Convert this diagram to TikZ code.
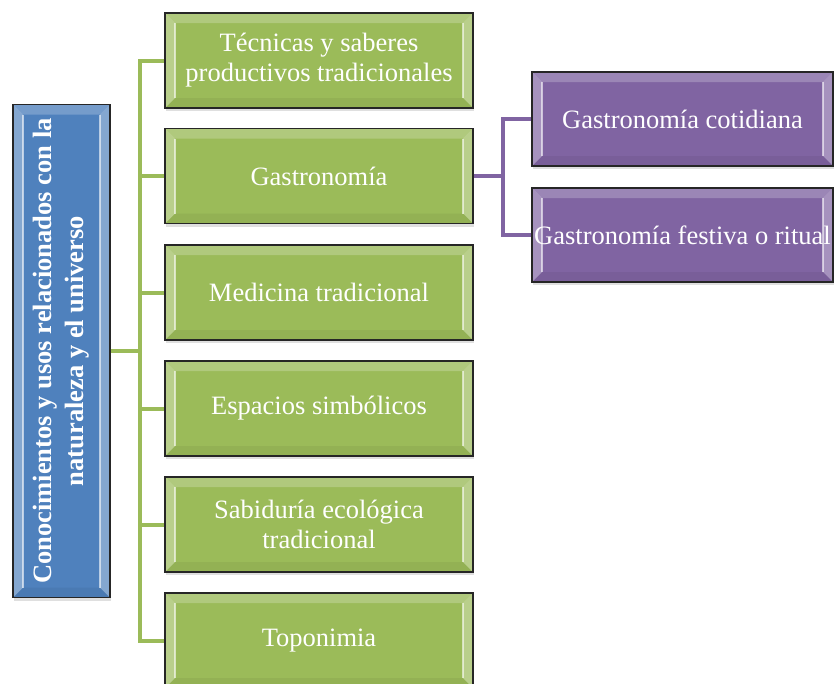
\documentclass[tikz,border=0pt]{standalone}
\usepackage{fontspec}
\setmainfont{Liberation Serif}
\usetikzlibrary{shadows}
\definecolor{gfill}{HTML}{9BBB59}
\definecolor{pfill}{HTML}{8064A2}
\definecolor{bfill}{HTML}{4F81BD}
\definecolor{gline}{HTML}{9BBB59}
\definecolor{pline}{HTML}{8064A2}
\tikzset{
  bevel/.style={path picture={
    \coordinate (nw) at (path picture bounding box.north west);
    \coordinate (ne) at (path picture bounding box.north east);
    \coordinate (sw) at (path picture bounding box.south west);
    \coordinate (se) at (path picture bounding box.south east);
    \fill[white,opacity=0.30] (nw) -- (sw) -- ([xshift=10pt,yshift=10pt]sw) -- ([xshift=10pt,yshift=-10pt]nw) -- cycle;
    \fill[white,opacity=0.22] (nw) -- (ne) -- ([xshift=-10pt,yshift=-10pt]ne) -- ([xshift=10pt,yshift=-10pt]nw) -- cycle;
    \fill[white,opacity=0.30] (ne) -- (se) -- ([xshift=-10pt,yshift=10pt]se) -- ([xshift=-10pt,yshift=-10pt]ne) -- cycle;
    \fill[black,opacity=0.05] (sw) -- (se) -- ([xshift=-10pt,yshift=10pt]se) -- ([xshift=10pt,yshift=10pt]sw) -- cycle;
    \draw[white,opacity=0.6,line width=1.5pt] ([xshift=10pt,yshift=10pt]sw) -- ([xshift=10pt,yshift=-10pt]nw);
    \draw[white,opacity=0.6,line width=1.5pt] ([xshift=-10pt,yshift=10pt]se) -- ([xshift=-10pt,yshift=-10pt]ne);
  }},
  box/.style={draw=black!85,line width=1.4pt,text=white,align=center,inner sep=0pt,
    font=\fontsize{26.5}{30}\selectfont,bevel,
    drop shadow={opacity=0.25,shadow xshift=1pt,shadow yshift=-3pt}},
  gbox/.style={box,fill=gfill,minimum width=308pt,minimum height=95pt},
  pbox/.style={box,fill=pfill,minimum width=301pt,minimum height=94pt},
  bbox/.style={box,fill=bfill,minimum width=97pt,minimum height=493pt},
  gconn/.style={draw=gline,line width=4pt},
  pconn/.style={draw=pline,line width=4pt},
}
\begin{document}
\begin{tikzpicture}[x=1pt,y=-1pt]
\useasboundingbox (0,0) rectangle (835,683);
\clip (0,0) rectangle (835,683);
\fill[white] (0,0) rectangle (835,683);
\node[bbox] (blue) at (61.5,351) {};
\coordinate (tr) at ([xshift=29pt]blue.east);
\node[gbox] (g1) at (319,60.5) {Técnicas y saberes\\productivos tradicionales};
\node[gbox] (g2) at (319,176) {Gastronomía};
\coordinate (pj) at ([xshift=29pt]g2.east);
\node[gbox] (g3) at (319,292.5) {Medicina tradicional};
\node[gbox] (g4) at (319,408.5) {Espacios simbólicos};
\node[gbox] (g5) at (319,524.5) {Sabiduría ecológica\\tradicional};
\node[gbox] (g6) at (319,640.5) {Toponimia};
\node[pbox] (p1) at (682.5,119) {Gastronomía cotidiana};
\node[pbox] (p2) at (682.5,235) {Gastronomía festiva o ritual};
\node[rotate=90,text=white,align=center,font=\bfseries\fontsize{26.5}{32}\selectfont] (bluetext) at (blue.center) {Conocimientos y usos relacionados con la\\naturaleza y el universo};
\path[gconn] (blue.east) -- (tr);
\path[gconn] (tr) |- (g1.west);
\path[gconn] (tr) |- (g2.west);
\path[gconn] (tr) |- (g3.west);
\path[gconn] (tr) |- (g4.west);
\path[gconn] (tr) |- (g5.west);
\path[gconn] (tr) |- (g6.west);
\path[pconn] (g2.east) -- (pj);
\path[pconn] (pj) |- (p1.west);
\path[pconn] (pj) |- (p2.west);
\end{tikzpicture}
\end{document}
